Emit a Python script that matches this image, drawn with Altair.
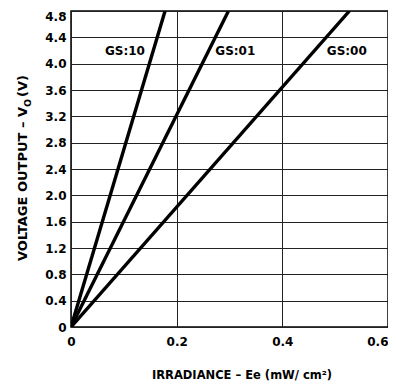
import altair as alt
import pandas as pd

# Series: straight lines from origin to the top of the plot (V = 4.8)
series = ["GS:10", "GS:01", "GS:00"]
x_start = [0.0, 0.0, 0.0]
y_start = [0.0, 0.0, 0.0]
x_end = [0.178, 0.298, 0.527]
y_end = [4.8, 4.8, 4.8]

# Curve labels
label_text = ["GS:10", "GS:01", "GS:00"]
label_x = [0.102, 0.311, 0.522]
label_y = [4.2, 4.2, 4.2]

x_ticks = [0, 0.2, 0.4, 0.6]
y_ticks = [0, 0.4, 0.8, 1.2, 1.6, 2.0, 2.4, 2.8, 3.2, 3.6, 4.0, 4.4, 4.8]

rows = []
for s, xs, ys, xe, ye in zip(series, x_start, y_start, x_end, y_end):
    rows.append({"series": s, "x": xs, "y": ys, "o": 0})
    rows.append({"series": s, "x": xe, "y": ye, "o": 1})
df = pd.DataFrame(rows)
labels = pd.DataFrame({"t": label_text, "x": label_x, "y": label_y})

FONT = "DejaVu Sans"

xs = alt.Scale(domain=[0, 0.6], nice=False, zero=False)
ys = alt.Scale(domain=[0, 4.8], nice=False, zero=False)

x_axis = alt.Axis(values=x_ticks, title=None, grid=True, ticks=False, domain=False,
                  labelExpr="datum.value == 0 ? '0' : format(datum.value, '.1f')",
                  labelPadding=9, labelFlush=False, labelOverlap=False,
                  labelAlign={"condition": {"test": "datum.value >= 0.6", "value": "right"},
                              "value": "center"},
                  labelFont=FONT, labelFontSize=12, labelFontWeight="bold", labelColor="black",
                  gridColor="#222", gridWidth=1, gridOpacity=1)
y_axis = alt.Axis(values=y_ticks, title=None, grid=True, ticks=False, domain=False,
                  labelExpr="datum.value == 0 ? '0' : format(datum.value, '.1f')",
                  labelPadding=5, labelOverlap=False, labelFlush=False,
                  labelBaseline={"condition": {"test": "datum.value >= 4.8", "value": "top"},
                                 "value": "middle"},
                  labelFont=FONT, labelFontSize=12, labelFontWeight="bold", labelColor="black",
                  gridColor="#222", gridWidth=1, gridOpacity=1)

lines = alt.Chart(df).mark_line(color="black", strokeWidth=3.4, clip=True).encode(
    x=alt.X("x:Q", scale=xs, axis=x_axis),
    y=alt.Y("y:Q", scale=ys, axis=y_axis),
    detail="series:N",
    order="o:Q",
)

lbl = alt.Chart(labels).mark_text(font=FONT, fontSize=12, fontWeight="bold",
                                  color="black", align="center", baseline="middle").encode(
    x=alt.X("x:Q", scale=xs, axis=x_axis),
    y=alt.Y("y:Q", scale=ys, axis=y_axis),
    text="t:N",
)

one = pd.DataFrame({"a": [0]})
title_style = dict(font=FONT, fontWeight="bold", color="black")

yt1 = alt.Chart(one).mark_text(angle=270, align="right", baseline="alphabetic",
                               fontSize=13, **title_style).encode(
    x=alt.value(-44), y=alt.value(96), text=alt.value("VOLTAGE OUTPUT – V"))
yt2 = alt.Chart(one).mark_text(angle=270, align="left", baseline="alphabetic",
                               fontSize=9.5, **title_style).encode(
    x=alt.value(-40), y=alt.value(96), text=alt.value("O"))
yt3 = alt.Chart(one).mark_text(angle=270, align="left", baseline="alphabetic",
                               fontSize=13, **title_style).encode(
    x=alt.value(-44), y=alt.value(86), text=alt.value(" (V)"))
xt = alt.Chart(one).mark_text(align="center", baseline="alphabetic",
                              fontSize=11.5, **title_style).encode(
    x=alt.value(171), y=alt.value(368), text=alt.value("IRRADIANCE – Ee (mW/ cm²)"))

chart = alt.layer(lines, lbl, yt1, yt2, yt3, xt).properties(
    width=317, height=316,
    autosize=alt.AutoSizeParams(type="none"),
    padding={"left": 63, "top": 3, "right": 0, "bottom": 62},
    background="white",
).configure_view(
    stroke="black", strokeWidth=1.5
)

chart.save("out.html", embed_options={"renderer": "svg", "actions": False})
